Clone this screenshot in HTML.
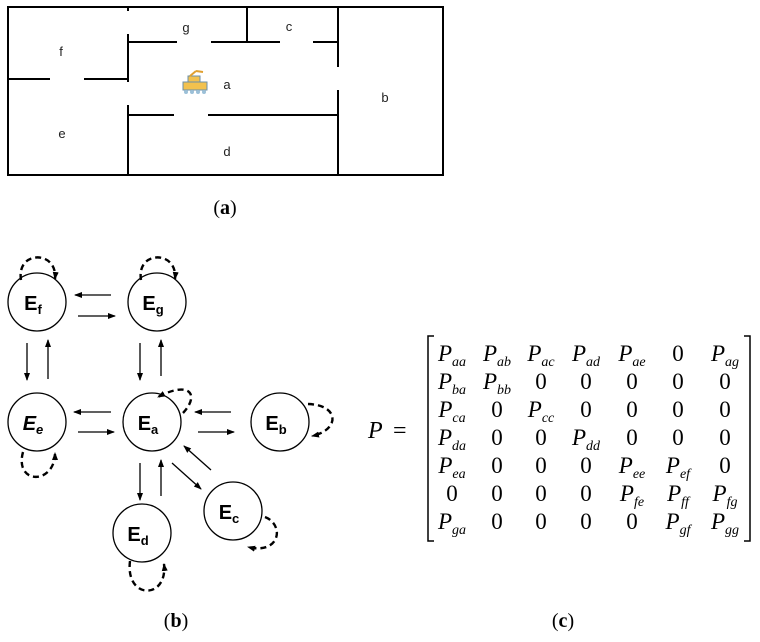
<!DOCTYPE html>
<html><head><meta charset="utf-8"><style>
html,body{margin:0;padding:0;background:#fff;}
svg{display:block;}
</style></head><body>
<svg width="760" height="642" viewBox="0 0 760 642" xmlns="http://www.w3.org/2000/svg">
<defs>
<marker id="ah" markerWidth="8" markerHeight="8" refX="7" refY="4" orient="auto" markerUnits="userSpaceOnUse">
<path d="M0,1 L8,4 L0,7 Z" fill="#000"/></marker>
</defs>
<g stroke="#000" stroke-width="2" fill="none">
<rect x="8" y="7" width="435" height="168"/>
<line x1="128" y1="7" x2="128" y2="11"/>
<line x1="128" y1="34" x2="128" y2="82"/>
<line x1="8" y1="79" x2="50" y2="79"/>
<line x1="84" y1="79" x2="128" y2="79"/>
<line x1="128" y1="42" x2="177" y2="42"/>
<line x1="211" y1="42" x2="280" y2="42"/>
<line x1="313" y1="42" x2="338" y2="42"/>
<line x1="247" y1="7" x2="247" y2="42"/>
<line x1="338" y1="7" x2="338" y2="67"/>
<line x1="338" y1="90" x2="338" y2="175"/>
<line x1="128" y1="115" x2="174" y2="115"/>
<line x1="208" y1="115" x2="338" y2="115"/>
<line x1="128" y1="105" x2="128" y2="175"/>
</g>
<g font-family="Liberation Sans, sans-serif" font-size="13" fill="#222" text-anchor="middle">
<text x="186" y="32">g</text><text x="289" y="31">c</text><text x="61" y="56">f</text>
<text x="227" y="89">a</text><text x="385" y="102">b</text><text x="62" y="138">e</text><text x="227" y="156">d</text>
</g>
<g>
<rect x="183" y="82" width="24" height="8" fill="#f2c14e" stroke="#6b8fa8" stroke-width="1"/>
<rect x="188" y="76" width="12" height="6" fill="#f2c14e" stroke="#6b8fa8" stroke-width="1"/>
<line x1="190" y1="76" x2="196" y2="71" stroke="#e0a030" stroke-width="2"/>
<line x1="196" y1="71" x2="203" y2="72" stroke="#e0a030" stroke-width="2"/>
<circle cx="186" cy="92" r="2" fill="#9cc0d8"/><circle cx="192" cy="92" r="2" fill="#9cc0d8"/>
<circle cx="198" cy="92" r="2" fill="#9cc0d8"/><circle cx="204" cy="92" r="2" fill="#9cc0d8"/>
</g>
<text x="225" y="214" font-family="Liberation Serif, serif" font-size="20" text-anchor="middle">(<tspan font-weight="bold">a</tspan>)</text>

<g stroke="#000" stroke-width="1.3" fill="#fff">
<circle cx="37" cy="302" r="29"/><circle cx="157" cy="302" r="29"/>
<circle cx="37" cy="422" r="29"/><circle cx="152" cy="422" r="29"/>
<circle cx="280" cy="422" r="29"/><circle cx="233" cy="511" r="29"/>
<circle cx="142" cy="533" r="29"/>
</g>
<g stroke="#000" stroke-width="1.3" fill="none" marker-end="url(#ah)">
<line x1="111" y1="295" x2="75" y2="295"/>
<line x1="78" y1="316" x2="115" y2="316"/>
<line x1="27" y1="343" x2="27" y2="380"/>
<line x1="48" y1="379" x2="48" y2="340"/>
<line x1="140" y1="343" x2="140" y2="380"/>
<line x1="161" y1="376" x2="161" y2="340"/>
<line x1="111" y1="412" x2="74" y2="412"/>
<line x1="78" y1="432" x2="114" y2="432"/>
<line x1="231" y1="412" x2="195" y2="412"/>
<line x1="198" y1="432" x2="234" y2="432"/>
<line x1="140" y1="463" x2="140" y2="500"/>
<line x1="161" y1="496" x2="161" y2="460"/>
<line x1="172" y1="463" x2="201" y2="489"/>
<line x1="211" y1="470" x2="184" y2="446"/>
</g>
<g stroke="#000" stroke-width="2.4" fill="none" stroke-dasharray="6,4" marker-end="url(#ah)">
<path d="M21,280 C16,250 58,250 55,279"/>
<path d="M141,280 C136,250 178,250 175,279"/>
<path d="M23,452 C14,485 55,485 55,453"/>
<path d="M183,413 C200,395 190,380 158,397"/>
<path d="M308,404 C340,405 340,430 312,436"/>
<path d="M265,517 C285,525 280,555 248,547"/>
<path d="M130,561 C125,600 168,600 164,564"/>
</g>
<g font-family="Liberation Sans, DejaVu Sans, sans-serif" font-size="20" font-weight="bold" text-anchor="middle">
<text x="33" y="310">E<tspan font-size="13" dy="4">f</tspan></text>
<text x="153" y="310">E<tspan font-size="13" dy="4">g</tspan></text>
<text x="33" y="430" font-style="italic">E<tspan font-size="13" dy="4">e</tspan></text>
<text x="148" y="430">E<tspan font-size="13" dy="4">a</tspan></text>
<text x="276" y="430">E<tspan font-size="13" dy="4">b</tspan></text>
<text x="229" y="519">E<tspan font-size="13" dy="4">c</tspan></text>
<text x="138" y="541">E<tspan font-size="13" dy="4">d</tspan></text>
</g>
<text x="176" y="627" font-family="Liberation Serif, serif" font-size="20" text-anchor="middle">(<tspan font-weight="bold">b</tspan>)</text>

<g font-family="Liberation Serif, serif" font-size="24" font-style="italic">
<text x="368" y="438">P</text>
</g>
<text x="393" y="438" font-family="Liberation Serif, serif" font-size="24">=</text>
<g stroke="#000" stroke-width="1.5" fill="none">
<path d="M434,336 L428,336 L428,541 L434,541"/>
<path d="M744,336 L750,336 L750,541 L744,541"/>
</g>
<g font-family="Liberation Serif, serif" font-size="23" text-anchor="middle">
<g font-style="italic">
<text x="452" y="361">P<tspan font-size="14" dy="5">aa</tspan></text>
<text x="497" y="361">P<tspan font-size="14" dy="5">ab</tspan></text>
<text x="541" y="361">P<tspan font-size="14" dy="5">ac</tspan></text>
<text x="586" y="361">P<tspan font-size="14" dy="5">ad</tspan></text>
<text x="632" y="361">P<tspan font-size="14" dy="5">ae</tspan></text>
<text x="725" y="361">P<tspan font-size="14" dy="5">ag</tspan></text>
<text x="452" y="389">P<tspan font-size="14" dy="5">ba</tspan></text>
<text x="497" y="389">P<tspan font-size="14" dy="5">bb</tspan></text>
<text x="452" y="417">P<tspan font-size="14" dy="5">ca</tspan></text>
<text x="541" y="417">P<tspan font-size="14" dy="5">cc</tspan></text>
<text x="452" y="445">P<tspan font-size="14" dy="5">da</tspan></text>
<text x="586" y="445">P<tspan font-size="14" dy="5">dd</tspan></text>
<text x="452" y="473">P<tspan font-size="14" dy="5">ea</tspan></text>
<text x="632" y="473">P<tspan font-size="14" dy="5">ee</tspan></text>
<text x="678" y="473">P<tspan font-size="14" dy="5">ef</tspan></text>
<text x="632" y="501">P<tspan font-size="14" dy="5">fe</tspan></text>
<text x="678" y="501">P<tspan font-size="14" dy="5">ff</tspan></text>
<text x="725" y="501">P<tspan font-size="14" dy="5">fg</tspan></text>
<text x="452" y="529">P<tspan font-size="14" dy="5">ga</tspan></text>
<text x="678" y="529">P<tspan font-size="14" dy="5">gf</tspan></text>
<text x="725" y="529">P<tspan font-size="14" dy="5">gg</tspan></text>
</g>
<text x="678" y="361">0</text>
<text x="541" y="389">0</text><text x="586" y="389">0</text><text x="632" y="389">0</text><text x="678" y="389">0</text><text x="725" y="389">0</text>
<text x="497" y="417">0</text><text x="586" y="417">0</text><text x="632" y="417">0</text><text x="678" y="417">0</text><text x="725" y="417">0</text>
<text x="497" y="445">0</text><text x="541" y="445">0</text><text x="632" y="445">0</text><text x="678" y="445">0</text><text x="725" y="445">0</text>
<text x="497" y="473">0</text><text x="541" y="473">0</text><text x="586" y="473">0</text><text x="725" y="473">0</text>
<text x="452" y="501">0</text><text x="497" y="501">0</text><text x="541" y="501">0</text><text x="586" y="501">0</text>
<text x="497" y="529">0</text><text x="541" y="529">0</text><text x="586" y="529">0</text><text x="632" y="529">0</text>
</g>
<text x="563" y="627" font-family="Liberation Serif, serif" font-size="20" text-anchor="middle">(<tspan font-weight="bold">c</tspan>)</text>
</svg>
</body></html>
